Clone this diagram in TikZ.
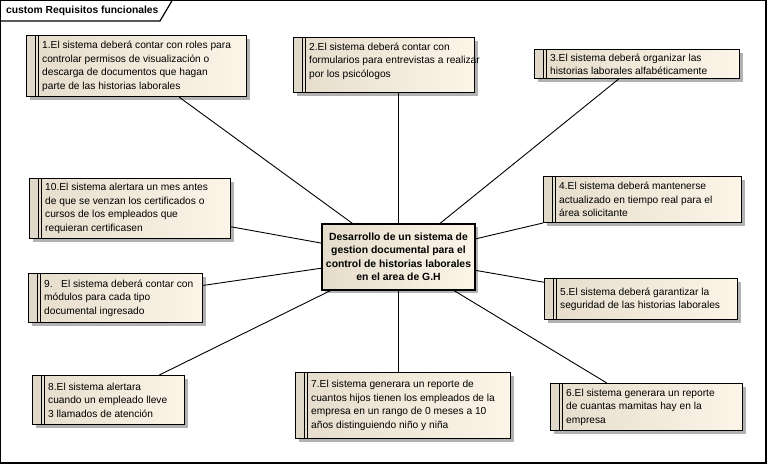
\documentclass[tikz,border=0pt]{standalone}
\usepackage{fontspec}
\setmainfont{Liberation Sans}
\usetikzlibrary{positioning,shadows}

\definecolor{reqleft}{RGB}{229,220,203}
\definecolor{reqright}{RGB}{252,245,232}
\definecolor{reqstrip}{RGB}{224,216,200}
\definecolor{reqshadow}{RGB}{178,178,178}

\tikzset{
  req/.style={draw, line width=1.2pt, anchor=north west, inner sep=0pt,
    left color=reqleft, right color=reqright,
    drop shadow={shadow xshift=3pt, shadow yshift=-3pt, fill=reqshadow, opacity=1},
    path picture={
      \fill[reqstrip] (path picture bounding box.north west) rectangle ([xshift=9pt]path picture bounding box.south west);
      \draw[line width=0.9pt] ([xshift=9pt]path picture bounding box.north west) -- ([xshift=9pt]path picture bounding box.south west);
      \draw[line width=0.9pt] ([xshift=12pt]path picture bounding box.north west) -- ([xshift=12pt]path picture bounding box.south west);
    }},
  reqtext/.style={inner sep=0pt, align=left, font=\fontsize{10.2}{13.5}\selectfont}
}

\begin{document}
\begin{tikzpicture}[x=1pt,y=-1pt]
  \useasboundingbox (0,0) rectangle (768,465);

  % frame
  \draw[line width=1.2pt] (0.7,0.7) rectangle (766,463);
  \draw[line width=1.2pt] (0.7,21) -- (160,21) -- (172,0.7);
  \node[anchor=west, inner sep=0pt, font=\fontsize{10.3}{12}\selectfont\bfseries] (title) at (6,11) {custom Requisitos funcionales};

  % requirements
  \begin{scope}[every node/.style={req}]
    \node[minimum width=220pt, minimum height=61pt] (r1) at (26,35) {};
    \node[minimum width=181pt, minimum height=55pt] (r2) at (293,37) {};
    \node[minimum width=205pt, minimum height=29pt] (r3) at (534,49) {};
    \node[minimum width=198pt, minimum height=46pt] (r4) at (543,176) {};
    \node[minimum width=193pt, minimum height=41pt] (r5) at (544,278) {};
    \node[minimum width=192pt, minimum height=47pt] (r6) at (550,383) {};
    \node[minimum width=215pt, minimum height=66pt] (r7) at (295,372) {};
    \node[minimum width=152pt, minimum height=49pt] (r8) at (32,375) {};
    \node[minimum width=174pt, minimum height=49pt] (r9) at (28,273) {};
    \node[minimum width=201pt, minimum height=60pt] (r10) at (29,178) {};
  \end{scope}

  \node[draw, line width=1.2pt, inner sep=0pt, minimum width=153pt, minimum height=66pt,
    left color=reqleft, right color=reqright,
    drop shadow={shadow xshift=3pt, shadow yshift=-3pt, fill=reqshadow, opacity=1}] (goal) at (398.5,257) {};
  \node[reqtext, align=center, font=\fontsize{10.4}{13.5}\selectfont\bfseries] (goaltext) at (goal) {Desarrollo de un sistema de\\gestion documental para el\\control de historias laborales\\en el area de G.H};

  % texts
  \begin{scope}[every node/.style={reqtext, anchor=west}]
    \node[right=16pt of r1.west] (t1) {1.El sistema deberá contar con roles para\\controlar permisos de visualización o\\descarga de documentos que hagan\\parte de las historias laborales};
    \node[right=16pt of r2.west, yshift=4pt] (t2) {2.El sistema deberá contar con\\formularios para entrevistas a realizar\\por los psicólogos};
    \node[right=16pt of r3.west] (t3) {3.El sistema deberá organizar las\\historias laborales alfabéticamente};
    \node[right=16pt of r4.west] (t4) {4.El sistema deberá mantenerse\\actualizado en tiempo real para el\\área solicitante};
    \node[right=16pt of r5.west] (t5) {5.El sistema deberá garantizar la\\seguridad de las historias laborales};
    \node[right=16pt of r6.west] (t6) {6.El sistema generara un reporte\\de cuantas mamitas hay en la\\empresa};
    \node[right=16pt of r7.west] (t7) {7.El sistema generara un reporte de\\cuantos hijos tienen los empleados de la\\empresa en un rango de 0 meses a 10\\años distinguiendo niño y niña};
    \node[right=16pt of r8.west] (t8) {8.El sistema alertara\\cuando un empleado lleve\\3 llamados de atención};
    \node[right=16pt of r9.west] (t9) {9.\ \ \ El sistema deberá contar con\\módulos para cada tipo\\documental ingresado};
    \node[right=16pt of r10.west] (t10) {10.El sistema alertara un mes antes\\de que se venzan los certificados o\\cursos de los empleados que\\requieran certificasen};
  \end{scope}

  % connectors
  \begin{scope}[every edge/.style={draw=black, line width=0.9pt}]
    \path (goal) edge (r1);
    \path (goal.north) edge (goal.north |- r2.south);
    \path (goal) edge (r3);
    \path (goal) edge (r4);
    \path (goal) edge (r5);
    \path (goal) edge (r6);
    \path (goal.south) edge (goal.south |- r7.north);
    \path (goal) edge (r8);
    \path (goal) edge (r9);
    \path (goal) edge (r10);
  \end{scope}
\end{tikzpicture}
\end{document}
